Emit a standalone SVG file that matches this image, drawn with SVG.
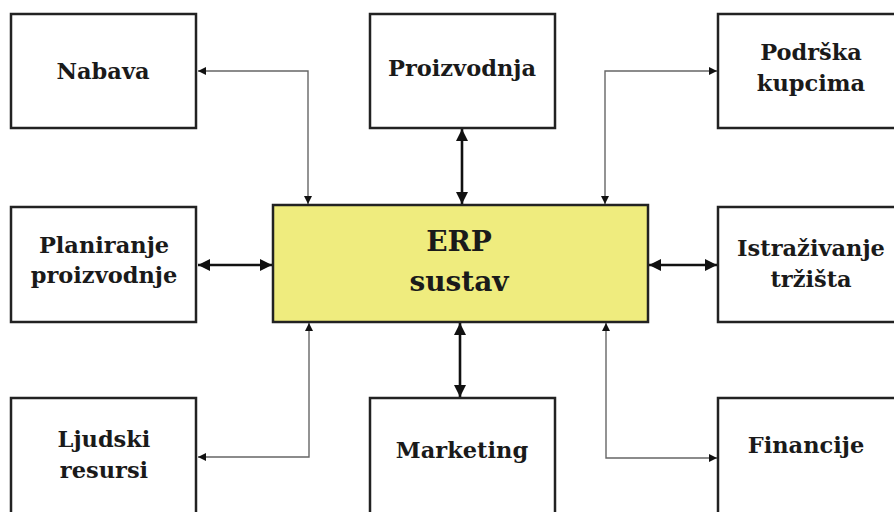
<svg xmlns="http://www.w3.org/2000/svg" width="894" height="512" viewBox="0 0 894 512">
<style>
.box{fill:#fff;stroke:#222;stroke-width:2.5}
.erp{fill:#EFEC7E;stroke:#222;stroke-width:2.5}
.lbl{font-family:"DejaVu Serif","Liberation Serif",serif;font-weight:bold;font-size:22.5px;fill:#1a1a1a;text-anchor:middle}
.big{font-size:28px}
.thin{fill:none;stroke:#666;stroke-width:1.4}
.thick{fill:none;stroke:#111;stroke-width:2.6}
</style>
<defs>
<marker id="ah" viewBox="0 0 10 10" refX="10" refY="5" markerUnits="userSpaceOnUse" markerWidth="9" markerHeight="8" orient="auto-start-reverse"><path d="M0,0 L10,5 L0,10 z" fill="#111"/></marker>
<marker id="ahb" viewBox="0 0 10 10" refX="10" refY="5" markerUnits="userSpaceOnUse" markerWidth="12" markerHeight="12" orient="auto-start-reverse"><path d="M0,0 L10,5 L0,10 z" fill="#111"/></marker>
</defs>
<g id="connectors">
<path class="thin" d="M308,204 V71 H198" marker-start="url(#ah)" marker-end="url(#ah)"/>
<path class="thin" d="M605,204 V71 H717" marker-start="url(#ah)" marker-end="url(#ah)"/>
<path class="thin" d="M309,323 V457 H198" marker-start="url(#ah)" marker-end="url(#ah)"/>
<path class="thin" d="M606,323 V458 H717" marker-start="url(#ah)" marker-end="url(#ah)"/>
<path class="thick" d="M462,129 V204" marker-start="url(#ahb)" marker-end="url(#ahb)"/>
<path class="thick" d="M460,323 V397" marker-start="url(#ahb)" marker-end="url(#ahb)"/>
<path class="thick" d="M198,265 H272" marker-start="url(#ahb)" marker-end="url(#ahb)"/>
<path class="thick" d="M649,265 H717" marker-start="url(#ahb)" marker-end="url(#ahb)"/>
</g>
<g id="erp"><rect class="erp" x="273" y="205" width="375" height="117"/><text class="lbl big" x="459" y="251">ERP</text><text class="lbl big" x="459" y="291">sustav</text></g>
<g id="nabava"><rect class="box" x="11" y="14" width="185" height="114"/><text class="lbl" x="103" y="79">Nabava</text></g>
<g id="proizvodnja"><rect class="box" x="370" y="14" width="185" height="114"/><text class="lbl" x="462" y="76">Proizvodnja</text></g>
<g id="podrska"><rect class="box" x="718" y="14" width="190" height="114"/><text class="lbl" x="811" y="60">Podrška</text><text class="lbl" x="811" y="91">kupcima</text></g>
<g id="planiranje"><rect class="box" x="11" y="207" width="185" height="115"/><text class="lbl" x="104" y="253">Planiranje</text><text class="lbl" x="104" y="283">proizvodnje</text></g>
<g id="istrazivanje"><rect class="box" x="718" y="207" width="190" height="115"/><text class="lbl" x="811" y="256">Istraživanje</text><text class="lbl" x="811" y="287">tržišta</text></g>
<g id="ljudski"><rect class="box" x="11" y="398" width="185" height="125"/><text class="lbl" x="104" y="447">Ljudski</text><text class="lbl" x="104" y="478">resursi</text></g>
<g id="marketing"><rect class="box" x="370" y="398" width="185" height="125"/><text class="lbl" x="462" y="458">Marketing</text></g>
<g id="financije"><rect class="box" x="718" y="398" width="190" height="125"/><text class="lbl" x="806" y="453">Financije</text></g>
</svg>
